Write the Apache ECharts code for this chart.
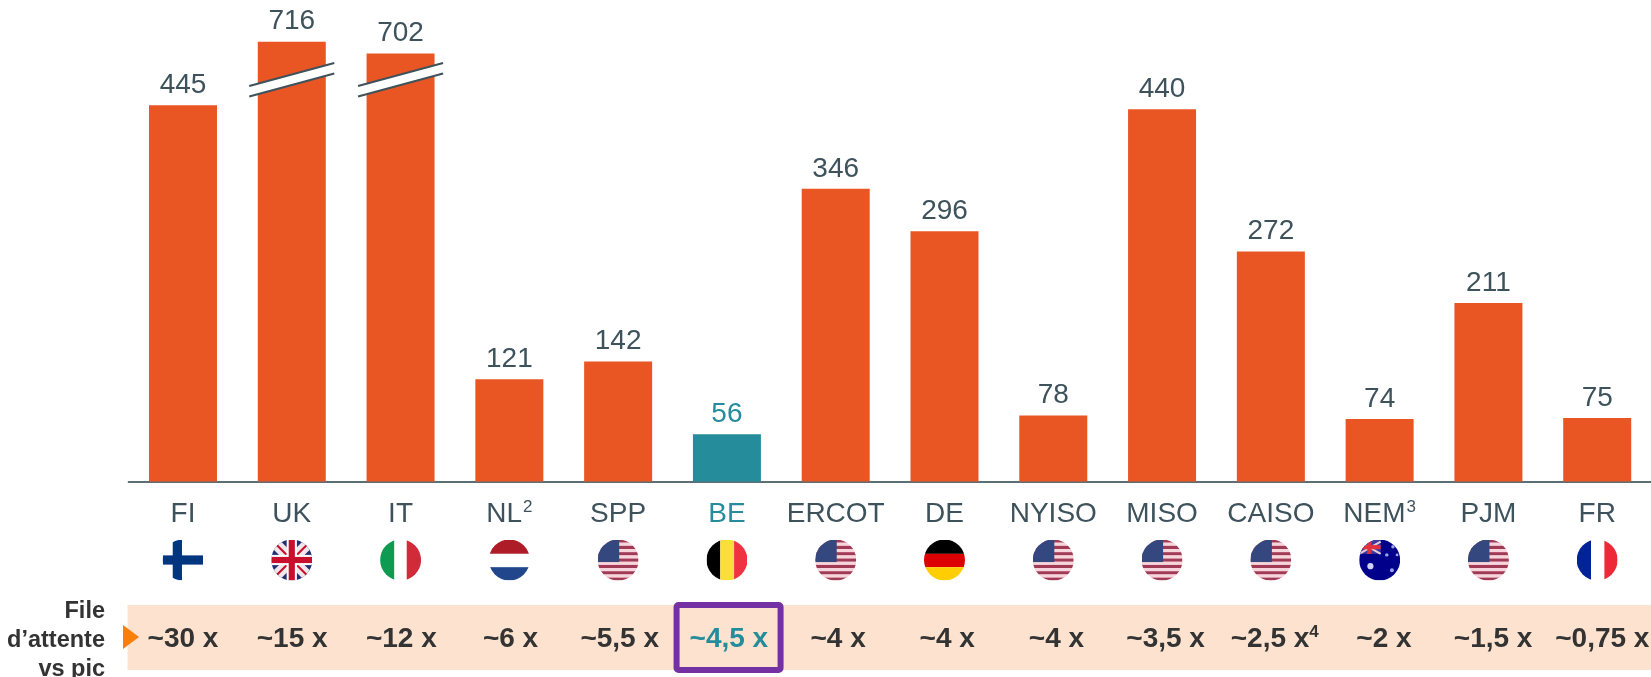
<!DOCTYPE html>
<html><head><meta charset="utf-8">
<style>html,body{margin:0;padding:0;background:#fff}#c{width:1651px;height:677px}</style>
<script src="https://cdn.jsdelivr.net/npm/echarts@6/dist/echarts.min.js"></script>
</head><body><div id="c"></div>
<script>
const categories = ['FI','UK','IT','NL','SPP','BE','ERCOT','DE','NYISO','MISO','CAISO','NEM','PJM','FR'];
const categoryNotes = ['','','','2','','','','','','','','3','',''];
const queueValues = [445,716,702,121,142,56,346,296,78,440,272,74,211,75];
const ratioLabels = ['~30 x','~15 x','~12 x','~6 x','~5,5 x','~4,5 x','~4 x','~4 x','~4 x','~3,5 x','~2,5 x','~2 x','~1,5 x','~0,75 x'];
const ratioNotes = ['','','','','','','','','','','4','','',''];
const flagCodes = ['FI','UK','IT','NL','US','BE','US','DE','US','US','US','AU','US','FR'];
const brokenCategories = ['UK','IT'];
const highlightCategory = 'BE';

const ORANGE='#E95623',TEAL='#258C9C',SLATE='#3E525C',DARK='#333333',FONT='"Liberation Sans",Arial,sans-serif';

const usStripes=[0,1,2,3,4,5,6].map(i=>`<rect y="${i*6.2}" width="40" height="3.1" fill="#A03A55"/><rect y="${i*6.2+3.1}" width="40" height="3.1" fill="#F7D5DC"/>`).join('');
const flagArt={
 FI:'<rect width="40" height="40" fill="#fff"/><rect x="10" width="9" height="40" fill="#003580"/><rect y="15.5" width="40" height="9" fill="#003580"/>',
 UK:'<rect width="40" height="40" fill="#1F2F74"/><path d="M0 4L36 40M4 0L40 36M0 36L36 0M4 40L40 4" stroke="#F2E6EA" stroke-width="5"/><path d="M0 0L40 40M0 40L40 0" stroke="#C8102E" stroke-width="2"/><rect x="15" width="10" height="40" fill="#fff"/><rect y="15" width="40" height="10" fill="#fff"/><rect x="17" width="6" height="40" fill="#C8102E"/><rect y="17" width="40" height="6" fill="#C8102E"/>',
 IT:'<rect width="14" height="40" fill="#0E9A50"/><rect x="14" width="13" height="40" fill="#fff"/><rect x="26" width="14" height="40" fill="#D12A38"/>',
 NL:'<rect width="40" height="14" fill="#AE1C28"/><rect y="14" width="40" height="13" fill="#fff"/><rect y="27" width="40" height="13" fill="#21468B"/>',
 US:`<rect width="40" height="40" fill="#F7D5DC"/>${usStripes}<rect width="21" height="22" fill="#34487F"/>`,
 BE:'<rect width="13.5" height="40" fill="#000"/><rect x="13.5" width="13.5" height="40" fill="#FBDD3B"/><rect x="27" width="13" height="40" fill="#EF3340"/>',
 DE:'<rect width="40" height="14" fill="#000"/><rect y="14" width="40" height="13" fill="#DD0000"/><rect y="27" width="40" height="13" fill="#FFCE00"/>',
 AU:'<rect width="40" height="40" fill="#00008B"/><rect width="21" height="14" fill="#3A3AA0"/><path d="M0 2L21 14M0 14L21 2" stroke="#E9C9D5" stroke-width="2"/><rect x="8" y="0" width="4" height="14" fill="#E3303F"/><rect y="5.5" width="21" height="4" fill="#E3303F"/><circle cx="11" cy="26" r="3" fill="#CFD3F5"/><circle cx="27" cy="15" r="1.7" fill="#9CA3EC"/><circle cx="33" cy="7" r="1.7" fill="#9CA3EC"/><circle cx="37" cy="15" r="1.4" fill="#9CA3EC"/><circle cx="32" cy="30" r="1.9" fill="#9CA3EC"/>',
 FR:'<rect width="14" height="40" fill="#002395"/><rect x="14" width="13" height="40" fill="#fff"/><rect x="27" width="13" height="40" fill="#ED2939"/>'
};
function flagSymbol(code){
  const svg=`<svg xmlns="http://www.w3.org/2000/svg" width="82" height="82" viewBox="0 0 40 40"><defs><clipPath id="k"><circle cx="20" cy="20" r="20"/></clipPath></defs><g clip-path="url(#k)">${flagArt[code]}</g></svg>`;
  return 'image://data:image/svg+xml;charset=utf-8,'+encodeURIComponent(svg);
}

const gridX={left:128.6,width:1523,outerBoundsMode:'none'};
const hiddenCat=i=>({type:'category',gridIndex:i,data:categories,show:false,boundaryGap:true});
const hiddenVal=i=>({type:'value',gridIndex:i,min:0,max:1,show:false});

const chart=echarts.init(document.getElementById('c'),null,{renderer:'canvas'});
chart.setOption({
  animation:false,
  backgroundColor:'#fff',
  textStyle:{fontFamily:FONT},
  grid:[
    {...gridX,top:4.5,height:477},
    {...gridX,top:540,height:40},
    {left:127.5,width:1530,top:605,height:65,show:true,backgroundColor:'#FDE3CF',borderWidth:0,outerBoundsMode:'none'},
    {left:128.4,width:1528.5,top:605,height:65,outerBoundsMode:'none'}
  ],
  xAxis:[
    {type:'category',gridIndex:0,data:categories,
     axisTick:{show:false},
     axisLine:{lineStyle:{color:'#5E6E75',width:2}},
     axisLabel:{interval:0,margin:17,fontFamily:FONT,
       formatter:(v,i)=>{const base=v===highlightCategory?'hi':'base';
         return `{${base}|${v}}`+(categoryNotes[i]?`{sup|${categoryNotes[i]}}`:'');},
       rich:{base:{fontSize:28,color:SLATE,fontFamily:FONT,lineHeight:32},
             hi:{fontSize:28,color:TEAL,fontFamily:FONT,lineHeight:32},
             sup:{fontSize:17,color:SLATE,fontFamily:FONT,lineHeight:32,verticalAlign:'top',padding:[0,0,8,1]}}}},
    hiddenCat(1),hiddenCat(2),hiddenCat(3)
  ],
  yAxis:[
    {type:'value',gridIndex:0,min:0,max:760,show:false,splitLine:{show:false},
     breaks:[{start:480,end:676,gap:0}],breakArea:{show:false}},
    hiddenVal(1),hiddenVal(2),hiddenVal(3)
  ],
  graphic:[
    {type:'text',right:1651-105,top:597,z:5,style:{text:'File\nd’attente\nvs pic',fill:DARK,font:'bold 23.5px '+FONT,textAlign:'right',lineHeight:29}},
    {type:'polygon',z:6,shape:{points:[[123,625],[139,637],[123,649]]},style:{fill:'#F77F0A'}}
  ],
  series:[
    {type:'bar',xAxisIndex:0,yAxisIndex:0,barWidth:68,
     data:queueValues.map((v,i)=>({value:v,
        itemStyle:{color:categories[i]===highlightCategory?TEAL:ORANGE},
        label:{color:categories[i]===highlightCategory?TEAL:SLATE}})),
     label:{show:true,position:'top',distance:6,fontSize:28,fontFamily:FONT}},
    {type:'custom',xAxisIndex:0,yAxisIndex:0,z:4,clip:false,silent:true,
     data:brokenCategories.map(c=>[categories.indexOf(c),475]),
     renderItem:(p,api)=>{
       const c=api.coord([api.value(0),api.value(1)]);
       const dx=42.5,dy=11.5,g=5.3;
       const ln=o=>({type:'line',shape:{x1:c[0]-dx,y1:c[1]+dy+o,x2:c[0]+dx,y2:c[1]-dy+o},style:{stroke:SLATE,lineWidth:2}});
       return {type:'group',children:[
         {type:'polygon',shape:{points:[[c[0]-dx,c[1]+dy-g],[c[0]+dx,c[1]-dy-g],[c[0]+dx,c[1]-dy+g],[c[0]-dx,c[1]+dy+g]]},style:{fill:'#fff'}},
         ln(-g),ln(g)]};
     }},
    {type:'scatter',xAxisIndex:1,yAxisIndex:1,silent:true,itemStyle:{opacity:1},
     data:categories.map((c,i)=>({value:[c,0.5],symbol:flagSymbol(flagCodes[i]),symbolSize:41}))},
    {type:'custom',xAxisIndex:2,yAxisIndex:2,silent:true,z:3,clip:false,
     data:[[categories.indexOf(highlightCategory),0.5]],
     renderItem:(p,api)=>{
       const c=api.coord([api.value(0),api.value(1)]);
       const w=104,h=65;
       return {type:'rect',shape:{x:c[0]-w/2,y:c[1]-h/2,width:w,height:h,r:2},
         style:{fill:'none',stroke:'#7431A3',lineWidth:6}};
     }},
    {type:'scatter',xAxisIndex:3,yAxisIndex:3,silent:true,z:4,symbolSize:1,
     itemStyle:{color:'rgba(0,0,0,0)',opacity:1},
     data:categories.map((c,i)=>({value:[c,0.5]})),
     label:{show:true,position:'inside',offset:[0,2],fontFamily:FONT,
       formatter:p=>{const b=categories[p.dataIndex]===highlightCategory?'hi':'base';
         return `{${b}|${ratioLabels[p.dataIndex]}}`+(ratioNotes[p.dataIndex]?`{sup|${ratioNotes[p.dataIndex]}}`:'');},
       rich:{base:{fontSize:28,fontWeight:'bold',color:DARK,fontFamily:FONT,lineHeight:32},
             hi:{fontSize:28,fontWeight:'bold',color:TEAL,fontFamily:FONT,lineHeight:32},
             sup:{fontSize:17,fontWeight:'bold',color:DARK,fontFamily:FONT,lineHeight:32,verticalAlign:'top',padding:[0,0,8,0]}}}}
  ]
});
</script></body></html>
